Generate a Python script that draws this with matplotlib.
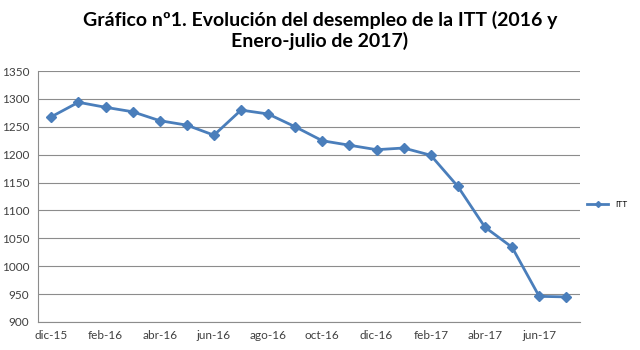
import matplotlib.pyplot as plt
import numpy as np

plt.rcParams['font.family'] = ['Lato', 'DejaVu Sans']

# Datos
meses = ['dic-15', 'ene-16', 'feb-16', 'mar-16', 'abr-16', 'may-16', 'jun-16',
         'jul-16', 'ago-16', 'sep-16', 'oct-16', 'nov-16', 'dic-16', 'ene-17',
         'feb-17', 'mar-17', 'abr-17', 'may-17', 'jun-17', 'jul-17']
itt = [1268, 1294, 1285, 1277, 1261, 1253, 1235, 1280, 1273, 1250, 1225,
       1217, 1209, 1212, 1199, 1143, 1070, 1034, 946, 945]
yticks = [900, 950, 1000, 1050, 1100, 1150, 1200, 1250, 1300, 1350]

fig = plt.figure(figsize=(6.4, 3.5), dpi=100)
ax = fig.add_axes([0.059, 0.08, 0.847, 0.717])

x = np.arange(len(meses))
ax.plot(x, itt, color='#4a7ebb', linewidth=2, marker='D', markersize=5, label='ITT')

ax.set_xlim(-0.5, len(meses) - 0.5)
ax.set_ylim(900, 1350)
ax.set_yticks(yticks)
ax.set_xticks(x[::2])
ax.set_xticklabels(meses[::2])
ax.tick_params(axis='both', labelsize=8.5, colors='#404040', length=0, pad=6)
ax.grid(axis='y', color='#8c8c8c', linewidth=0.8)
ax.set_axisbelow(True)
for s in ['top', 'right']:
    ax.spines[s].set_visible(False)
ax.spines['left'].set_color('#8c8c8c')
ax.spines['bottom'].set_color('#8c8c8c')

fig.suptitle('Gráfico nº1. Evolución del desempleo de la ITT (2016 y\nEnero-julio de 2017)',
             fontsize=14, fontweight='bold', y=0.97, linespacing=1.2)

leg = ax.legend(loc='center left', bbox_to_anchor=(1.0, 0.47), frameon=False,
                fontsize=6, handlelength=2.5, markerscale=0.6)

plt.savefig('out.png', dpi=100)
